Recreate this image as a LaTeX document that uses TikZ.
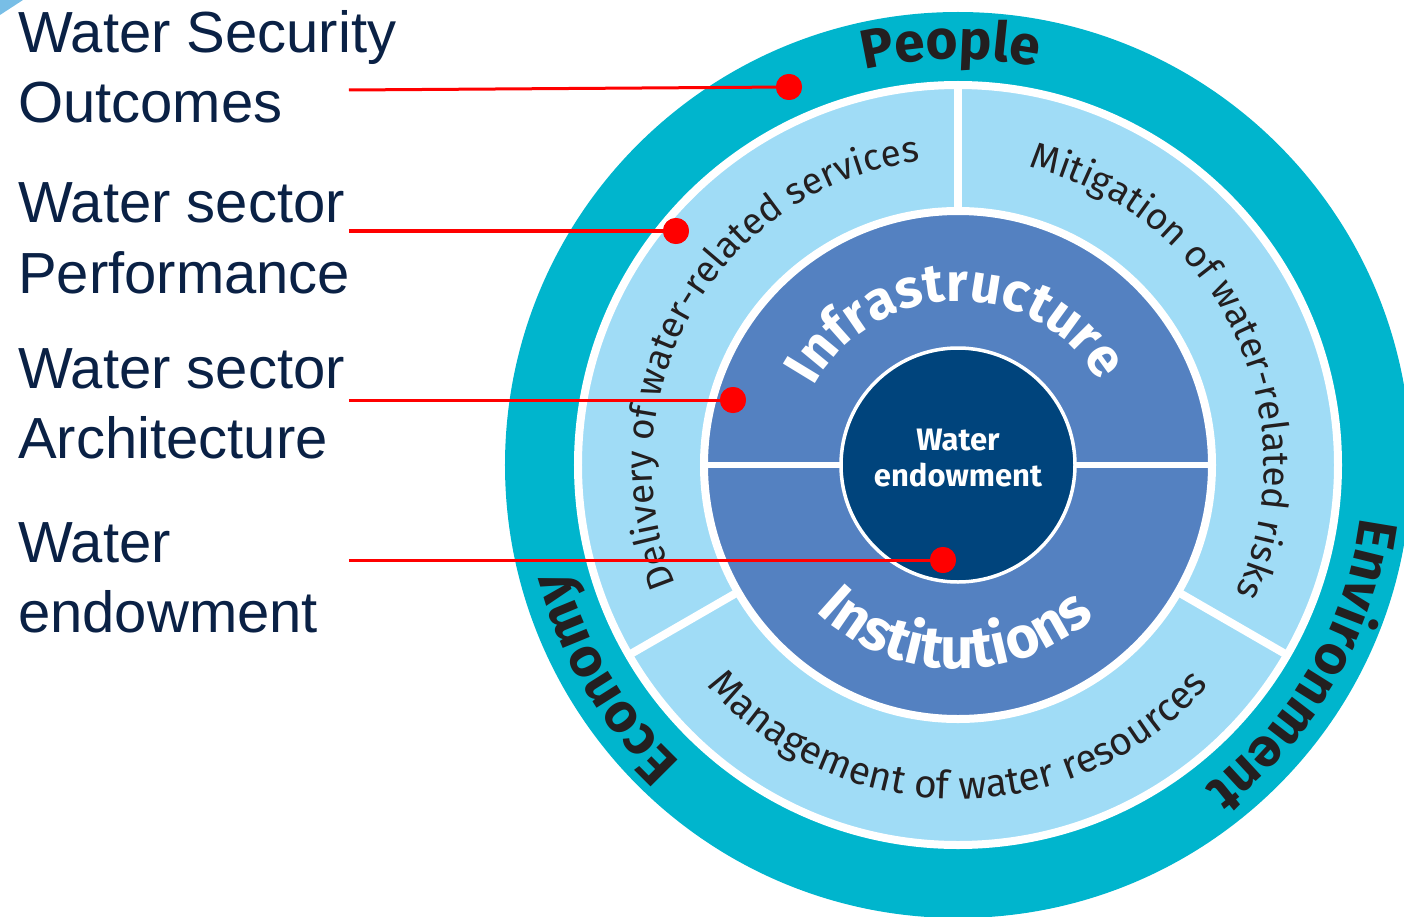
\documentclass[tikz,border=0pt]{standalone}
\usepackage{fontspec}
\setmainfont{Liberation Sans}
\newfontfamily\ringfont{Fira Sans}
\usetikzlibrary{decorations.text}
\definecolor{tealring}{RGB}{0,181,205}
\definecolor{lightring}{RGB}{160,220,246}
\definecolor{midring}{RGB}{84,129,193}
\definecolor{darkcore}{RGB}{0,68,124}
\definecolor{labelnavy}{RGB}{10,33,69}
\definecolor{ringtext}{RGB}{35,31,32}
\definecolor{cornerblue}{RGB}{120,190,230}
\begin{document}
\begin{tikzpicture}[x=1pt,y=1pt,
  leftlabel/.style={anchor=base west, align=left, inner sep=0pt, text=labelnavy,
    font=\fontsize{58}{70}\selectfont},
  redline/.style={draw=red, line width=3pt},
  reddot/.style={circle, fill=red, minimum size=26pt, inner sep=0pt},
  divider/.style={draw=white, line width=8pt},
  outertext/.style={decorate, decoration={text along path, text align=center,
    text color=ringtext, text={|\ringfont\bfseries\fontsize{55}{55}\selectfont|#1}}},
  bandtext/.style={decorate, decoration={text along path, text align=center,
    text color=ringtext, text={|\ringfont\fontsize{37}{37}\selectfont|#1}}},
  bandtextlow/.style={decorate, decoration={text along path, text align=center,
    text color=ringtext, text={|\ringfont\fontsize{39}{39}\selectfont|#1}}},
  innertext/.style 2 args={decorate, decoration={text along path, text align=center,
    text color=white, text={|\ringfont\bfseries\fontsize{#1}{#1}\selectfont|#2}}},
]
\useasboundingbox (-958,-451) rectangle (446,465);
% corner mark
\fill[cornerblue] (-958,465) -- (-935,465) -- (-958,450) -- cycle;

% rings
\fill[tealring] (0,0) circle[radius=453pt];
\fill[lightring] (0,0) circle[radius=380pt];
\draw[white, line width=8pt] (0,0) circle[radius=380pt];
\draw[divider] (90:254pt) -- (90:380pt);
\draw[divider] (210:254pt) -- (210:380pt);
\draw[divider] (330:254pt) -- (330:380pt);
\fill[midring] (0,0) circle[radius=254pt];
\draw[white, line width=8pt] (0,0) circle[radius=254pt];
\draw[divider, line width=6pt] (180:254pt) -- (0:254pt);
\node[circle, fill=darkcore, draw=white, line width=3.5pt, minimum size=234pt, inner sep=0pt] (core) at (0,0) {};
\node[align=center, text=white, inner sep=0pt, font=\ringfont\bfseries\fontsize{31}{36}\selectfont] (coretext) at (0,7) {Water\\endowment};

% outer ring labels
\path[outertext=People] (171:406pt) arc[start angle=171, end angle=11, radius=406pt];
\path[outertext=Environment] (50:406pt) arc[start angle=50, end angle=-110, radius=406pt];
\path[outertext=Economy] (291:406pt) arc[start angle=291, end angle=131, radius=406pt];

% service band labels
\path[bandtext={Delivery of water-related services}] (230:306pt) arc[start angle=230, end angle=70, radius=306pt];
\path[bandtext={Mitigation of water-related risks}] (106:306pt) arc[start angle=106, end angle=-54, radius=306pt];
\path[bandtextlow={Management of water resources}] (190:334pt) arc[start angle=190, end angle=350, radius=334pt];

% architecture labels
\path[innertext={54}{Infrastructure}] (171:164pt) arc[start angle=171, end angle=11, radius=164pt];
\path[innertext={58}{Institutions}] (189:204pt) arc[start angle=189, end angle=349, radius=204pt];

% left labels
\node[leftlabel] (lab1) at (-940,342) {Water Security\\Outcomes};
\node[leftlabel] (lab2) at (-940,172) {Water sector\\Performance};
\node[leftlabel] (lab3) at (-940,7) {Water sector\\Architecture};
\node[leftlabel] (lab4) at (-940,-167) {Water\\endowment};

% connectors
\coordinate (s1) at (-609,375);
\coordinate (s2) at (-609,234);
\coordinate (s3) at (-609,65);
\coordinate (s4) at (-609,-95);
\node[reddot] (d1) at (-169,378) {};
\node[reddot] (d2) at (-282,234) {};
\node[reddot] (d3) at (-225,65) {};
\node[reddot] (d4) at (-15,-95) {};
\draw[redline] (s1) -- (d1.center);
\draw[redline] (s2) -- (d2.center);
\draw[redline] (s3) -- (d3.center);
\draw[redline] (s4) -- (d4.center);
\node[reddot] at (d1) {};
\node[reddot] at (d2) {};
\node[reddot] at (d3) {};
\node[reddot] at (d4) {};
\end{tikzpicture}
\end{document}
